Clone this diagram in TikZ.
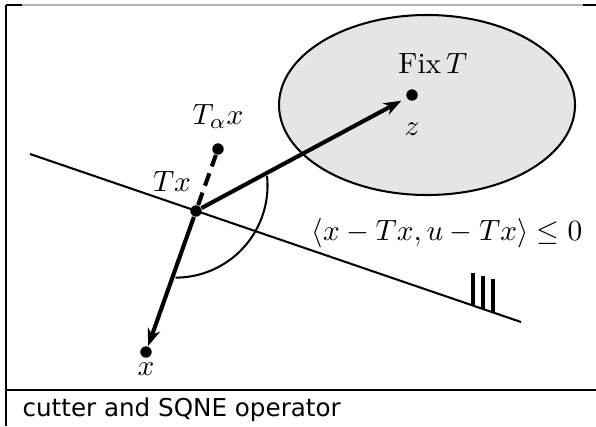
\documentclass[tikz,border=0pt]{standalone}
\usepackage{amsmath,amssymb}
\usepackage{fontspec}
\newfontfamily\capfont{DejaVu Sans}
\usetikzlibrary{arrows.meta,positioning,calc}
\colorlet{FixGray}{gray!20}
\colorlet{FrameGray}{black!30}

\begin{document}
\begin{tikzpicture}[
    x=0.12mm,y=-0.12mm,
    dot/.style={circle,fill=black,inner sep=0pt,minimum size=3.9pt},
    lbl/.style={inner sep=0pt},
    plain/.style={line width=0.7pt},
    arr/.style={-{Stealth[length=6pt,width=4.4pt]},line width=1.4pt}
  ]
  \useasboundingbox (0,0) rectangle (596,426);
  \draw[FrameGray,line width=0.4pt] (6,5) -- (596,5);
  \draw[plain] (6,5) -- (22,5);
  \draw[plain] (583,5) -- (596,5);
  \draw[plain] (6,5) -- (6,426);
  \draw[plain] (6,390) -- (596,390);

  \draw[plain,fill=FixGray] (427,105) ellipse [x radius=148,y radius=90];
  \coordinate (hA) at (30,154);
  \coordinate (hB) at (521,322);
  \draw[plain] (hA) -- (hB);
  \foreach \t in {0.902,0.923,0.943}
    \draw[line width=1.2pt] ($(hA)!\t!(hB)$) -- ++(0,-33);

  \node[dot] (tx) at (196,211) {};
  \node[dot] (z) at (412,95) {};
  \node[dot] (tax) at (218,149) {};
  \node[dot] (x) at (146,352) {};

  \draw[plain] (267,176) arc[start angle=6,end angle=-90,radius=11.04mm];
  \draw[arr,shorten >=2pt] (tx) -- (z);
  \draw[arr] (tx) -- (x);
  \draw[line width=1.4pt,dash pattern=on 4.5pt off 2.5pt] (tx) -- (tax);

  \node[lbl,above=1.7mm of z,xshift=2.5mm] (fixlab) {$\mathrm{Fix}\,T$};
  \node[lbl,below=2.5mm of z] (zlab) {$z$};
  \node[lbl,above=1.6mm of tax] (taxlab) {$T_\alpha x$};
  \node[lbl,above left=1.7mm and 0mm of tx] (txlab) {$Tx$};
  \node[lbl,below=0.5mm of x] (xlab) {$x$};
  \node[lbl] (ineq) at (447,233) {$\langle x-Tx,u-Tx\rangle\le 0$};
  \node[lbl,anchor=base west,font=\capfont\fontsize{8.4}{10}\selectfont] (cap) at (22,416) {cutter and SQNE operator};
\end{tikzpicture}
\end{document}
